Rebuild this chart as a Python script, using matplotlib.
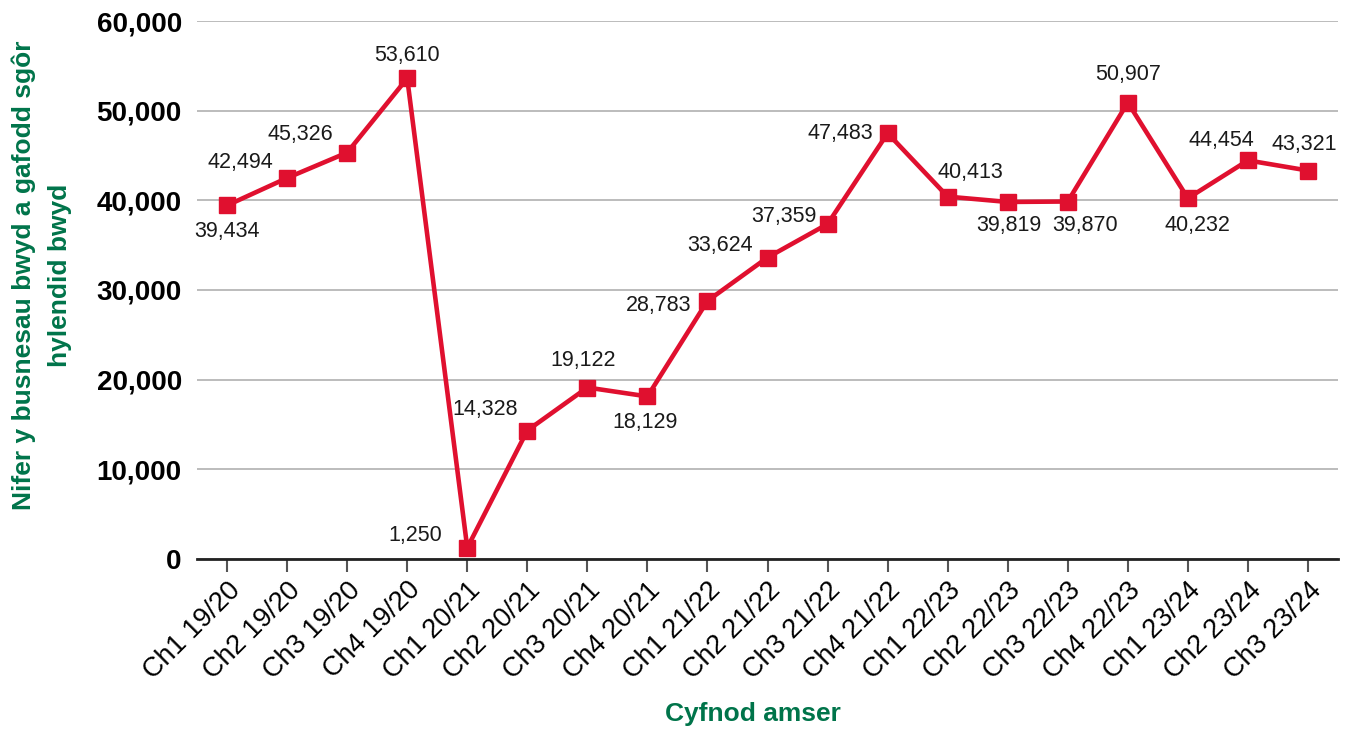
import numpy as np
import matplotlib.pyplot as plt
from matplotlib.transforms import ScaledTranslation

plt.rcParams['font.family'] = ['Liberation Sans', 'DejaVu Sans']

# data
periods = ['Ch1 19/20', 'Ch2 19/20', 'Ch3 19/20', 'Ch4 19/20',
           'Ch1 20/21', 'Ch2 20/21', 'Ch3 20/21', 'Ch4 20/21',
           'Ch1 21/22', 'Ch2 21/22', 'Ch3 21/22', 'Ch4 21/22',
           'Ch1 22/23', 'Ch2 22/23', 'Ch3 22/23', 'Ch4 22/23',
           'Ch1 23/24', 'Ch2 23/24', 'Ch3 23/24']
counts = [39434, 42494, 45326, 53610, 1250, 14328, 19122, 18129, 28783,
          33624, 37359, 47483, 40413, 39819, 39870, 50907, 40232, 44454, 43321]

# label offsets in pixels (dx, dy)
offs = [(0, -26), (-47, 15), (-47, 18), (0, 23), (-52, 12), (-42, 21), (-4, 27),
        (-2, -26), (-49, -5), (-47, 12), (-44, 8), (-47, 0), (23, 24), (1, -24),
        (17, -24), (0, 28), (10, -27), (-27, 20), (-4, 26)]

red = '#E0102F'
green = '#00744A'

fig = plt.figure(figsize=(13.45, 7.35), dpi=100)
ax = fig.add_axes([0.1465, 0.2395, 0.8483, 0.7319])

x = np.arange(len(periods))
ax.plot(x, counts, color=red, lw=3.3, marker='s', ms=12, zorder=3)

for i, v in enumerate(counts):
    ax.annotate(f'{v:,}', (i, v), xytext=offs[i], textcoords='offset pixels',
                ha='center', va='center', fontsize=15.5, color='#1a1a1a')

ax.set_xlim(-0.5, len(periods) - 0.5)
ax.set_ylim(0, 60000)
ax.set_yticks(np.arange(0, 60001, 10000))
ax.set_yticklabels([f'{t:,}' for t in range(0, 60001, 10000)],
                   fontsize=20, fontweight='bold')
ax.set_xticks(x)
ax.set_xticklabels(periods, rotation=45, ha='right', rotation_mode='anchor',
                   fontsize=19.5)
shift = ScaledTranslation(8 / 100, -5 / 100, fig.dpi_scale_trans)
for lab in ax.get_xticklabels():
    lab.set_transform(lab.get_transform() + shift)

ax.grid(axis='y', color='#b0b0b0', lw=1.2)
ax.set_axisbelow(True)
for s in ['top', 'right', 'left']:
    ax.spines[s].set_visible(False)
ax.spines['bottom'].set_color('#222222')
ax.spines['bottom'].set_linewidth(2)
ax.tick_params(axis='y', length=0, pad=11)
ax.tick_params(axis='x', length=9, width=1.5, color='#555555', pad=4)

ax.set_xlabel('Cyfnod amser', fontsize=19, fontweight='bold', color=green)
ax.xaxis.set_label_coords(0.487, -0.288)
ax.xaxis.label.set_va('center')
fig.text(0.031, 0.626, 'Nifer y busnesau bwyd a gafodd sgôr\nhylendid bwyd',
         rotation=90, ha='center', va='center', fontsize=19,
         fontweight='bold', color=green, linespacing=1.6)

fig.savefig('out.png', dpi=100)
